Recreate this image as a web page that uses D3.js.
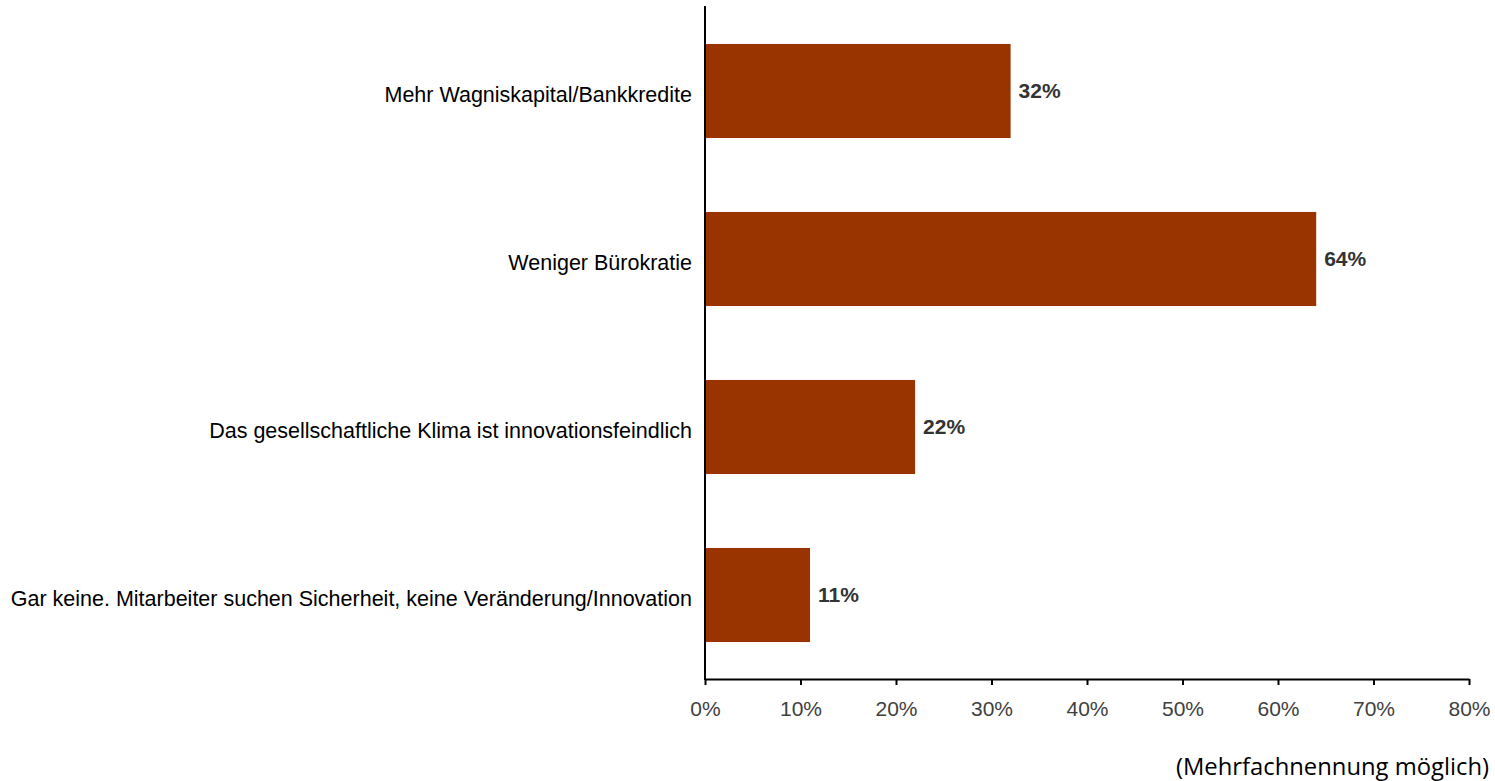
<!DOCTYPE html>
<html>
<head>
<meta charset="utf-8">
<script src="https://cdn.jsdelivr.net/npm/d3@7"></script>
<style>
  html, body { margin: 0; padding: 0; background: #fff; }
  svg { display: block; }
</style>
</head>
<body>
<svg id="chart" width="1495" height="781"></svg>
<script>
// Survey answers and shares (percent)
const categories = [
  "Mehr Wagniskapital/Bankkredite",
  "Weniger Bürokratie",
  "Das gesellschaftliche Klima ist innovationsfeindlich",
  "Gar keine. Mitarbeiter suchen Sicherheit, keine Veränderung/Innovation"
];
const values = [32, 64, 22, 11];
const tickValues = [0, 10, 20, 30, 40, 50, 60, 70, 80];
const footnote = "(Mehrfachnennung möglich)";

const svg = d3.select("#chart");

const x = d3.scaleLinear().domain([0, 80]).range([705, 1469]);
const y = d3.scaleBand()
  .domain(categories)
  .range([7, 679])
  .paddingInner(0.44)
  .paddingOuter(0.22);

const data = categories.map((c, i) => ({ cat: c, val: values[i] }));
const mid = d => y(d.cat) + y.bandwidth() / 2;

// bars
svg.append("g").selectAll("rect")
  .data(data)
  .join("rect")
  .attr("x", x(0))
  .attr("y", d => y(d.cat))
  .attr("width", d => x(d.val) - x(0))
  .attr("height", y.bandwidth())
  .attr("fill", "#993300");

// value labels
svg.append("g").selectAll("text")
  .data(data)
  .join("text")
  .attr("x", d => x(d.val) + 8)
  .attr("y", mid)
  .attr("dy", "0.35em")
  .attr("font-family", "Liberation Sans, Arial, sans-serif")
  .attr("font-size", 21)
  .attr("font-weight", "bold")
  .attr("fill", "#333")
  .text(d => d.val + "%");

// category labels
svg.append("g").selectAll("text")
  .data(data)
  .join("text")
  .attr("x", 692)
  .attr("y", d => mid(d) + 3)
  .attr("dy", "0.35em")
  .attr("text-anchor", "end")
  .attr("font-family", "Liberation Sans, Arial, sans-serif")
  .attr("font-size", 21.5)
  .attr("fill", "#000")
  .text(d => d.cat);

// bottom axis
const xAxis = d3.axisBottom(x)
  .tickValues(tickValues)
  .tickFormat(d => d + "%")
  .tickSize(6)
  .tickSizeOuter(0)
  .tickPadding(16);

const gx = svg.append("g")
  .attr("transform", "translate(0,679)")
  .call(xAxis);
gx.select(".domain").attr("stroke", "#000").attr("stroke-width", 2);
gx.selectAll(".tick line").attr("stroke", "#000").attr("stroke-width", 2);
gx.selectAll(".tick text")
  .attr("font-family", "Liberation Sans, Arial, sans-serif")
  .attr("font-size", 21)
  .attr("fill", "#404040");

// vertical axis line
svg.append("line")
  .attr("x1", x(0)).attr("x2", x(0))
  .attr("y1", 6).attr("y2", 680)
  .attr("stroke", "#000")
  .attr("stroke-width", 2);

// footnote
svg.append("text")
  .attr("x", 1489)
  .attr("y", 775)
  .attr("text-anchor", "end")
  .attr("font-family", "Open Sans, sans-serif")
  .attr("font-size", 23.8)
  .attr("fill", "#000")
  .text(footnote);
</script>
</body>
</html>
